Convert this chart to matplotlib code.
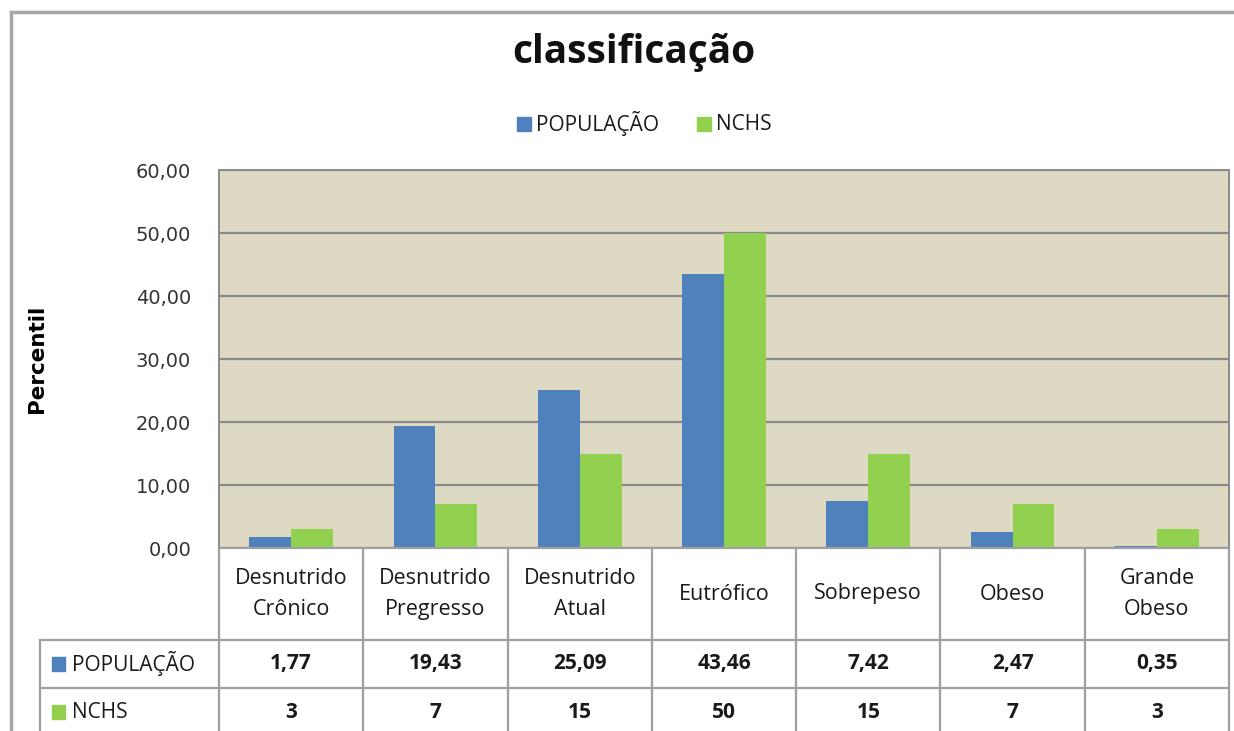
import numpy as np
import matplotlib
matplotlib.use('Agg')
import matplotlib.pyplot as plt
from matplotlib.patches import Rectangle

plt.rcParams['font.family'] = ['Open Sans', 'DejaVu Sans']

categories = ["Desnutrido\nCrônico", "Desnutrido\nPregresso", "Desnutrido\nAtual",
              "Eutrófico", "Sobrepeso", "Obeso", "Grande\nObeso"]
populacao = [1.77, 19.43, 25.09, 43.46, 7.42, 2.47, 0.35]
nchs = [3, 7, 15, 50, 15, 7, 3]
populacao_labels = ["1,77", "19,43", "25,09", "43,46", "7,42", "2,47", "0,35"]
nchs_labels = ["3", "7", "15", "50", "15", "7", "3"]
yticks = [0, 10, 20, 30, 40, 50, 60]
ytick_labels = ["0,00", "10,00", "20,00", "30,00", "40,00", "50,00", "60,00"]
series_names = ["POPULAÇÃO", "NCHS"]

BLUE = "#4f81bd"
GREEN = "#92d050"
BG = "#ddd9c3"
GRID = "#8a8a8a"
LINE = "#a0a0a0"
TXT = "#1a1a1a"

W, H = 1234, 731
fig = plt.figure(figsize=(W / 100, H / 100), dpi=100)
fig.patch.set_facecolor("white")


def fx(px):
    return px / W


def fy(py):
    return 1 - py / H


# outer chart border (top and left visible)
fig.add_artist(plt.Line2D([fx(11), fx(11)], [fy(12), 0], color="#a6a6a6", lw=2.5))
fig.add_artist(plt.Line2D([fx(11), 1], [fy(12), fy(12)], color="#a6a6a6", lw=2.5))

# bar plot area
px_left, px_right, px_top, px_bot = 219, 1229, 170, 548
ax = fig.add_axes([fx(px_left), fy(px_bot), fx(px_right - px_left), (px_bot - px_top) / H])
ax.set_facecolor(BG)
x = np.arange(len(categories))
bw = 0.29
ax.bar(x - bw / 2, populacao, bw, color=BLUE, zorder=3)
ax.bar(x + bw / 2, nchs, bw, color=GREEN, zorder=3)
ax.set_xlim(-0.5, len(categories) - 0.5)
ax.set_ylim(0, 60)
ax.set_yticks(yticks)
ax.set_yticklabels(ytick_labels, fontsize=14, color="#333333", family="DejaVu Sans")
ax.set_xticks([])
ax.tick_params(axis="y", length=0, pad=20)
ax.yaxis.grid(True, color=GRID, lw=1.6, zorder=1)
for s in ax.spines.values():
    s.set_color(GRID)
    s.set_linewidth(1.4)
ax.spines["bottom"].set_visible(False)
ax.set_ylabel("Percentil", fontsize=15.5, fontweight="bold", family="DejaVu Sans",
              labelpad=64)

fig.text(fx(634), fy(52), "classificação", ha="center", va="center",
         fontsize=28, fontweight="bold", color="#111111")

# legend at top
leg_y = fy(124)
fig.add_artist(Rectangle((fx(517), leg_y - 7 / H), 14 / W, 14 / H, color=BLUE))
fig.text(fx(536), leg_y, series_names[0], ha="left", va="center", fontsize=15, color=TXT)
fig.add_artist(Rectangle((fx(697), leg_y - 7 / H), 14 / W, 14 / H, color=GREEN))
fig.text(fx(716), leg_y, series_names[1], ha="left", va="center", fontsize=15, color=TXT)

# data table under the plot
tab_left = 40
col_w = (px_right - px_left) / len(categories)
lab_w = (px_left - tab_left) / col_w
tab = fig.add_axes([fx(tab_left), 0, fx(px_right - tab_left), (H - px_bot) / H])
tab.set_xlim(-0.5 - lab_w, len(categories) - 0.5)
tab.set_ylim(H - px_bot, 0)
tab.axis("off")

head_h, row_h = 92, 48
rows = [head_h, head_h + row_h, head_h + 2 * row_h]
lkw = dict(color=LINE, lw=1.6, clip_on=False)
# vertical lines
for b in np.arange(len(categories) + 1) - 0.5:
    tab.plot([b, b], [0, H], **lkw)
tab.plot([-0.5 - lab_w] * 2, [rows[0], H], **lkw)
# horizontal lines
tab.plot([-0.5, len(categories) - 0.5], [0, 0], **lkw)
for r in rows[:2]:
    tab.plot([-0.5 - lab_w, len(categories) - 0.5], [r, r], **lkw)

for i, c in enumerate(categories):
    tab.text(i, head_h / 2, c, ha="center", va="center", fontsize=15.5,
             linespacing=1.6, color=TXT)
    tab.text(i, rows[0] + row_h / 2, populacao_labels[i], ha="center",
             va="center", fontsize=15, fontweight="bold", color=TXT)
    tab.text(i, rows[1] + row_h / 2, nchs_labels[i], ha="center",
             va="center", fontsize=15, fontweight="bold", color=TXT)

sq = 13 / col_w
for k, (name, col) in enumerate(zip(series_names, [BLUE, GREEN])):
    yc = rows[k] + row_h / 2
    tab.add_patch(Rectangle((-0.5 - lab_w + 12 / col_w, yc - 7), sq, 14,
                            color=col, clip_on=False))
    tab.text(-0.5 - lab_w + 32 / col_w, yc, name, ha="left", va="center",
             fontsize=15, color=TXT)

fig.savefig("out.png", dpi=100, facecolor="white")
